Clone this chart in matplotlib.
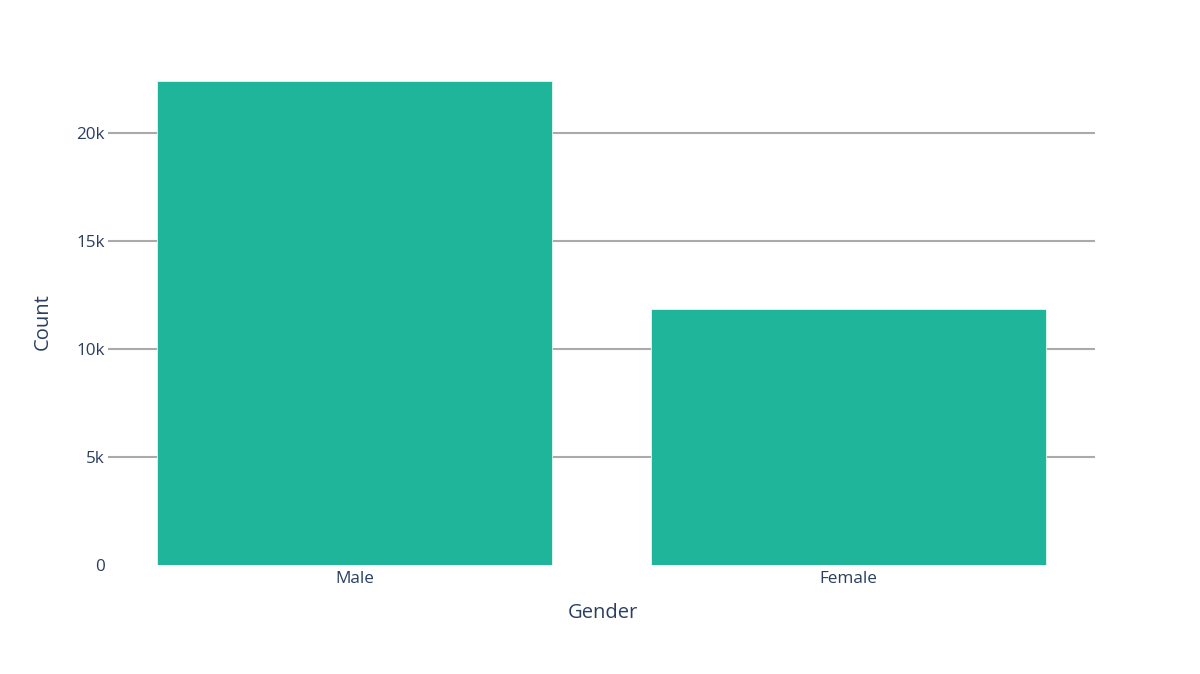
import matplotlib.pyplot as plt
from matplotlib.ticker import FuncFormatter

# data
genders = ['Male', 'Female']
counts = [22410, 11840]

bar_color = '#1fb59a'
text_color = '#2a3f5f'

plt.rcParams['font.family'] = ['Open Sans', 'DejaVu Sans']

fig = plt.figure(figsize=(12, 6.74), dpi=100)
W, H = 1200, 674
left, right, top, bottom = 108, 1095, 55, 565
ax = fig.add_axes([left / W, 1 - bottom / H, (right - left) / W, (bottom - top) / H])

x = range(len(genders))
ax.bar(x, counts, width=0.8, color=bar_color, edgecolor='#e6f7f3', linewidth=0.6, zorder=3)

ax.set_xlim(-0.5, len(genders) - 0.5)
ax.set_ylim(0, 23610)
ax.set_xticks(list(x))
ax.set_xticklabels(genders)
ax.set_yticks([0, 5000, 10000, 15000, 20000])
ax.yaxis.set_major_formatter(FuncFormatter(lambda v, p: '0' if v == 0 else f'{int(v / 1000)}k'))

ax.grid(axis='y', color='#aaaaaa', linewidth=1.5, zorder=0)
ax.yaxis.get_gridlines()[0].set_visible(False)

for s in ax.spines.values():
    s.set_visible(False)
ax.tick_params(axis='both', length=0, colors=text_color, labelsize=12.3)
ax.tick_params(axis='y', pad=2)
ax.tick_params(axis='x', pad=4)

ax.set_xlabel('Gender', fontsize=14.5, color=text_color)
ax.set_ylabel('Count', fontsize=14.5, color=text_color)
ax.xaxis.set_label_coords((603 - left) / (right - left), (bottom - 613) / (bottom - top))
ax.yaxis.set_label_coords((43 - left) / (right - left), (bottom - 322) / (bottom - top))
ax.xaxis.label.set_va('center')
ax.yaxis.label.set_va('center')

fig.savefig('out.png', dpi=100, facecolor='white')
